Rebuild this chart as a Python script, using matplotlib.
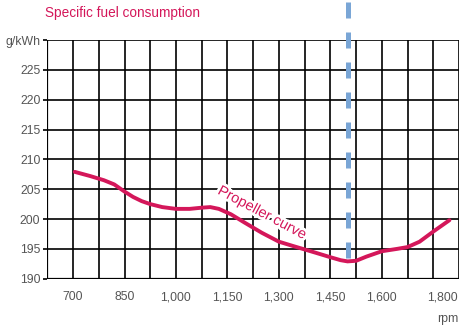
import matplotlib
matplotlib.use('Agg')
import matplotlib.pyplot as plt
import matplotlib.patheffects as pe
import matplotlib.transforms as mtrans

# propeller curve
rpm = [705, 750, 790, 820, 850, 875, 900, 925, 960, 1000, 1040, 1075, 1100, 1125,
       1160, 1200, 1250, 1300, 1340, 1375, 1410, 1450, 1480, 1500, 1525, 1555,
       1600, 1645, 1675, 1710, 1750, 1797]
sfc = [207.9, 207.2, 206.5, 205.8, 204.6, 203.7, 203.0, 202.5, 202.0, 201.7, 201.7,
       201.9, 202.0, 201.7, 200.8, 199.4, 197.7, 196.2, 195.5, 194.9, 194.3, 193.6,
       193.1, 192.9, 193.0, 193.7, 194.6, 195.0, 195.3, 196.2, 197.9, 199.8]

xtick_vals = [700, 850, 1000, 1150, 1300, 1450, 1600, 1800]
xtick_labels = ["700", "850", "1,000", "1,150", "1,300", "1,450", "1,600", "1,800"]
ytick_vals = [190, 195, 200, 205, 210, 215, 220, 225, 230]
ytick_labels = ["190", "195", "200", "205", "210", "215", "220", "225", "g/kWh"]
grid_x = [625, 700, 775, 850, 925, 1000, 1075, 1150, 1225, 1300, 1375, 1450,
          1525, 1600, 1675, 1750, 1825]
grid_y = [190, 195, 200, 205, 210, 215, 220, 225, 230]
rated_rpm = 1500

red = "#d4175a"
blue = "#7aa6d6"
grey = "#555555"
font = ["Liberation Sans Narrow", "Liberation Sans", "DejaVu Sans"]

fig = plt.figure(figsize=(4.77, 3.34), dpi=100)
ax = fig.add_axes([0.0992, 0.1656, 0.8631, 0.7146])

ax.set_xlim(625, 1825)
ax.set_ylim(190, 230)

# grid every 75 rpm and 5 g/kWh
ax.vlines(grid_x, 190, 230, color='black', linewidth=1.2, zorder=1)
ax.hlines(grid_y, 625, 1825, color='black', linewidth=1.2, zorder=1)
for s in ax.spines.values():
    s.set_visible(False)
ax.axhline(190, color='black', linewidth=1.6, zorder=1)
ax.axvline(625, color='black', linewidth=1.6, zorder=1)

ax.set_xticks(xtick_vals)
ax.set_xticklabels(xtick_labels, family=font, fontsize=8.8, color=grey)
ax.set_yticks(ytick_vals)
ax.set_yticklabels(ytick_labels, family=font, fontsize=8.8, color=grey)
ax.tick_params(axis='x', length=0, pad=9)
ax.tick_params(axis='y', length=3, width=1.2, pad=2)

# last x label sits a bit left of its tick
lab = ax.get_xticklabels()[-1]
lab.set_transform(lab.get_transform() + mtrans.ScaledTranslation(-8 / 100, 0, fig.dpi_scale_trans))

ax.plot([rated_rpm, rated_rpm], [236.4, 193.2], color=blue, linewidth=3.6,
        dashes=(3.2, 2.8), solid_capstyle='butt', dash_capstyle='butt',
        clip_on=False, zorder=4)

ax.plot(rpm, sfc, color=red, linewidth=2.8, solid_capstyle='round',
        solid_joinstyle='round', zorder=5)

ax.text(1252, 201.0, "Propeller curve", rotation=-28, color=red, family=font,
        fontsize=10.5, ha='center', va='center', zorder=3,
        path_effects=[pe.withStroke(linewidth=4, foreground='white')])

fig.text(45 / 477, 1 - 13.5 / 334, "Specific fuel consumption", color=red,
         family=font, fontsize=9.8, ha='left', va='center')
fig.text(448 / 477, 1 - 319 / 334, "rpm", color=grey, family=font, fontsize=8.8,
         ha='center', va='center')

fig.savefig("out.png", dpi=100)
